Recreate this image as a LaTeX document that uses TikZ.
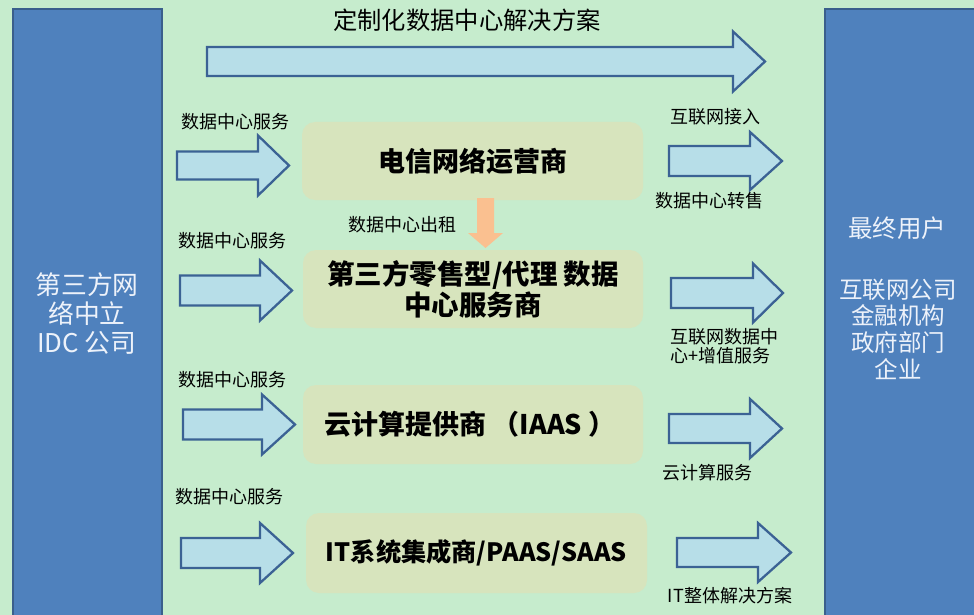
\documentclass[tikz,border=0pt]{standalone}
\usepackage{fontspec}
\setmainfont{Noto Sans CJK SC}
\definecolor{bgG}{HTML}{C6ECCD}
\definecolor{rectB}{HTML}{4F81BD}
\definecolor{rectBd}{HTML}{3A5F8C}
\definecolor{arrF}{HTML}{B7DEE8}
\definecolor{arrD}{HTML}{3B6294}
\definecolor{boxF}{HTML}{D7E4BD}
\definecolor{orangeA}{HTML}{FAC090}
\definecolor{paleT}{HTML}{EDF2FA}
\newcommand\BlkArrow[7]{%
  \draw[#1] ({#2},{#5-#6}) -- ({#3},{#5-#6}) -- ({#3},{#5-#7}) -- ({#4},{#5})
    -- ({#3},{#5+#7}) -- ({#3},{#5+#6}) -- ({#2},{#5+#6}) -- cycle;}
\tikzset{
  bluerect/.style={fill=rectB, draw=rectBd, line width=2.5pt},
  blockarr/.style={fill=arrF, draw=arrD, line width=2.3pt, line join=miter},
  olivebox/.style={fill=boxF, draw=none, rounded corners=13pt},
  boxtext/.style={font=\bfseries\fontsize{26.5}{30}\selectfont, align=center, text=black},
  smalllbl/.style={font=\fontsize{18}{19.3}\selectfont, text=black, inner sep=0pt},
  sidetext/.style={text=paleT, align=center, inner sep=0pt}
}
\begin{document}
\begin{tikzpicture}[x=1pt, y=-1pt]
\useasboundingbox (0,0) rectangle (974,615);
\clip (0,0) rectangle (974,615);
\fill[bgG] (0,0) rectangle (974,615);

% side rectangles
\draw[bluerect] (13,9) rectangle (162,625);
\draw[bluerect] (825,9) rectangle (985,625);

\node[sidetext, font=\fontsize{25.8}{29}\selectfont] (lefttxt) at (87,314) {第三方网\\络中立\\IDC 公司};
\node[sidetext, font=\fontsize{24.5}{27}\selectfont] (endusr) at (897,228) {最终用户};
\node[sidetext, font=\fontsize{23.5}{26.7}\selectfont] (usrlist) at (898,329) {互联网公司\\金融机构\\政府部门\\企业};

% top arrow
\node[font=\fontsize{24.3}{26}\selectfont, inner sep=0pt] (toplbl) at (467,20) {定制化数据中心解决方案};
\BlkArrow{blockarr}{207}{733}{765}{61.5}{14.5}{30}

% olive boxes
\fill[olivebox] (302,122) rectangle (643,200);
\fill[olivebox] (303,250) rectangle (643,328);
\fill[olivebox] (303,385) rectangle (643,464);
\fill[olivebox] (306,513) rectangle (647,593);
\node[boxtext, font=\bfseries\fontsize{27}{30}\selectfont] (b1) at (472.5,161) {电信网络运营商};
\node[boxtext, font=\bfseries\fontsize{27.5}{31}\selectfont] (b2) at (473,289) {第三方零售型/代理 数据\\中心服务商};
\node[boxtext, font=\bfseries\fontsize{27}{30}\selectfont] (b3) at (470,424.5) {云计算提供商 （IAAS ）};
\node[boxtext, font=\bfseries\fontsize{25.2}{30}\selectfont] (b4) at (476.5,553) {IT系统集成商/PAAS/SAAS};

% orange arrow between b1 and b2
\fill[orangeA] (477,198) -- (494,198) -- (494,233) -- (503,233) -- (485.5,248)
  -- (468,233) -- (477,233) -- cycle;
\node[smalllbl] (rentlbl) at (402.5,225) {数据中心出租};

% left arrows and labels
\BlkArrow{blockarr}{177}{258}{289}{165.5}{14}{30}
\BlkArrow{blockarr}{180}{260}{292}{290.5}{15}{30}
\BlkArrow{blockarr}{183}{262}{295}{424.5}{15}{30}
\BlkArrow{blockarr}{181}{260}{293}{553}{15}{30}
\node[smalllbl] (l1) at (235.5,122) {数据中心服务};
\node[smalllbl] (l2) at (232.5,241) {数据中心服务};
\node[smalllbl] (l3) at (232.5,380) {数据中心服务};
\node[smalllbl] (l4) at (229,497) {数据中心服务};

% right arrows and labels
\BlkArrow{blockarr}{669}{750}{782}{161}{15}{29}
\BlkArrow{blockarr}{671}{753}{783}{293}{15}{29.5}
\BlkArrow{blockarr}{669}{750}{782}{428.5}{14.5}{29.5}
\BlkArrow{blockarr}{677}{758}{791}{552.5}{14.5}{29.5}
\node[smalllbl] (r1a) at (715.5,117) {互联网接入};
\node[smalllbl] (r1b) at (709.5,201) {数据中心转售};
\node[smalllbl, anchor=west, align=left] (r2) at (670,346.5) {互联网数据中\\心+增值服务};
\node[smalllbl] (r3) at (707.5,473) {云计算服务};
\node[smalllbl] (r4) at (730,596) {IT整体解决方案};
\end{tikzpicture}
\end{document}
